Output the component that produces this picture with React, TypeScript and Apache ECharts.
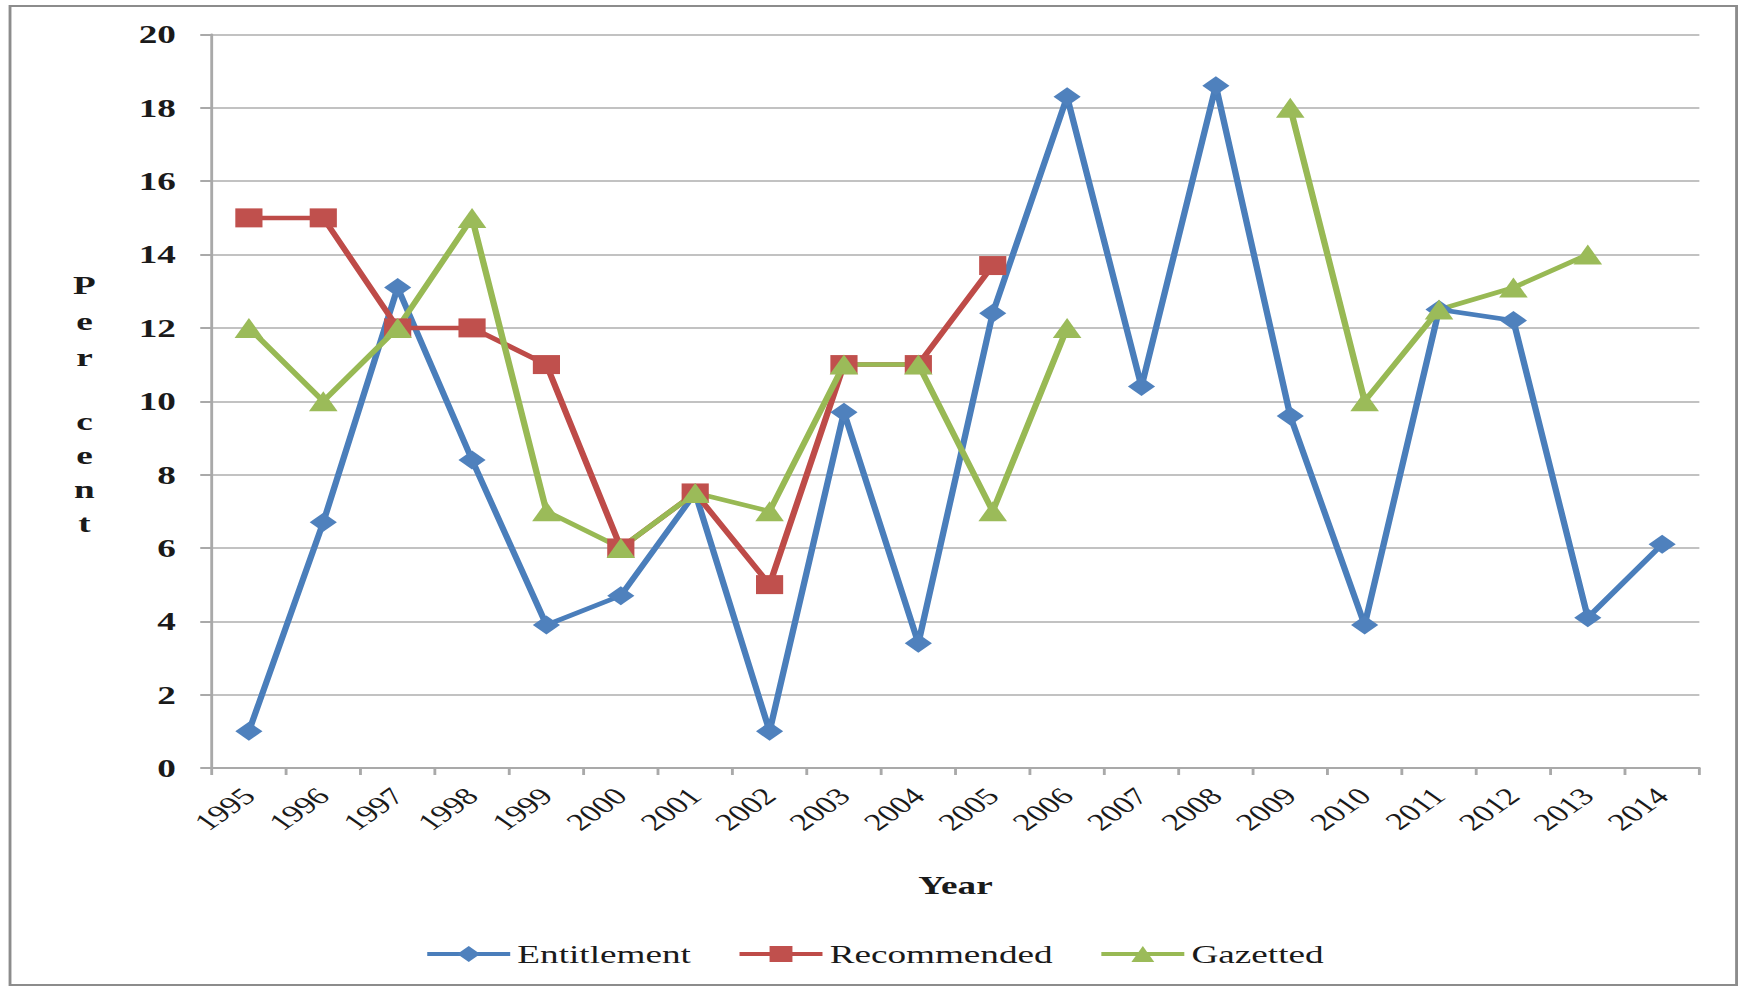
import React, { useEffect, useRef } from "react";
import * as echarts from "echarts";

// Categories and series values
const years = [
  "1995", "1996", "1997", "1998", "1999", "2000", "2001", "2002", "2003", "2004",
  "2005", "2006", "2007", "2008", "2009", "2010", "2011", "2012", "2013", "2014",
];
const entitlement = [1, 6.7, 13.1, 8.4, 3.9, 4.7, 7.5, 1, 9.7, 3.4, 12.4, 18.3, 10.4, 18.6, 9.6, 3.9, 12.5, 12.2, 4.1, 6.1];
const recommended = [15, 15, 12, 12, 11, 6, 7.5, 5, 11, 11, 13.7, null, null, null, null, null, null, null, null, null];
const gazetted = [12, 10, 12, 15, 7, 6, 7.5, 7, 11, 11, 7, 12, null, null, 18, 10, 12.5, 13.1, 14, null];
const seriesNames = ["Entitlement", "Recommended", "Gazetted"];

const PAGE_W = 1748;
const PAGE_H = 990;
// The chart is laid out on a narrower canvas and widened horizontally.
const STRETCH = 1.43;
const CHART_W = Math.round(PAGE_W / STRETCH);

const FONT = "'Liberation Serif', 'Times New Roman', serif";
const AXIS_GRAY = "#a9a9a9";

export default function App() {
  const ref = useRef<HTMLDivElement>(null);

  useEffect(() => {
    if (!ref.current) return;
    const chart = echarts.init(ref.current, null, { renderer: "svg" });

    const lineSeries = (
      name: string,
      data: (number | null)[],
      color: string,
      markerColor: string,
      symbol: string,
      symbolSize: number
    ) => ({
      name,
      type: "line",
      data,
      connectNulls: false,
      symbol,
      symbolSize,
      showAllSymbol: true,
      lineStyle: { color, width: 4.5 },
      itemStyle: { color: markerColor, borderWidth: 0 },
      emphasis: { disabled: true },
    });

    chart.setOption({
      animation: false,
      backgroundColor: "#ffffff",
      textStyle: { fontFamily: FONT },
      graphic: [
        {
          type: "rect",
          shape: { x: 7, y: 6, width: CHART_W - 15, height: 979 },
          style: { fill: "none", stroke: "#8c8c8c", lineWidth: 2 },
          silent: true,
        },
        {
          type: "text",
          x: 59,
          y: 267,
          style: {
            text: "P\ne\nr",
            font: `bold 26px ${FONT}`,
            fill: "#1a1a1a",
            align: "center",
            verticalAlign: "top",
            lineHeight: 36,
          },
        },
        {
          type: "text",
          x: 59,
          y: 404,
          style: {
            text: "c\ne\nn\nt",
            font: `bold 26px ${FONT}`,
            fill: "#1a1a1a",
            align: "center",
            verticalAlign: "top",
            lineHeight: 34,
          },
        },
      ],
      legend: {
        data: seriesNames,
        left: "center",
        top: 936,
        itemWidth: 58,
        itemHeight: 20,
        itemGap: 32,
        lineStyle: { width: 4 },
        textStyle: { fontFamily: FONT, fontSize: 26, color: "#1a1a1a" },
      },
      grid: { left: 148, right: 34, top: 34.5, bottom: 222, containLabel: false },
      xAxis: {
        type: "category",
        data: years,
        boundaryGap: true,
        name: "Year",
        nameLocation: "middle",
        nameGap: 104,
        nameTextStyle: { fontFamily: FONT, fontSize: 26, fontWeight: "bold", color: "#1a1a1a" },
        axisLine: { lineStyle: { color: AXIS_GRAY, width: 2 } },
        axisTick: { show: true, length: 7, lineStyle: { color: AXIS_GRAY, width: 2 } },
        axisLabel: {
          rotate: 45,
          margin: 24,
          fontFamily: FONT,
          fontSize: 24,
          color: "#1a1a1a",
          interval: 0,
        },
        splitLine: { show: false },
      },
      yAxis: {
        type: "value",
        min: 0,
        max: 20,
        interval: 2,
        axisLine: { show: true, lineStyle: { color: AXIS_GRAY, width: 2 } },
        axisTick: { show: true, length: 8, lineStyle: { color: AXIS_GRAY, width: 2 } },
        axisLabel: {
          margin: 25,
          fontFamily: FONT,
          fontSize: 26,
          fontWeight: "bold",
          color: "#1a1a1a",
        },
        splitLine: { show: true, lineStyle: { color: "#c2c2c2", width: 2 } },
      },
      series: [
        lineSeries(seriesNames[0], entitlement, "#4A7EBB", "#4F81BD", "diamond", 19),
        lineSeries(seriesNames[1], recommended, "#BE4B48", "#C0504D", "rect", 19),
        lineSeries(seriesNames[2], gazetted, "#98B954", "#9BBB59", "triangle", 20),
      ],
    });

    return () => chart.dispose();
  }, []);

  return (
    <div
      style={{
        position: "absolute",
        left: 0,
        top: 0,
        width: PAGE_W,
        height: PAGE_H,
        overflow: "hidden",
        background: "#ffffff",
      }}
    >
      <div
        ref={ref}
        style={{
          width: CHART_W,
          height: PAGE_H,
          transform: `scaleX(${PAGE_W / CHART_W})`,
          transformOrigin: "0 0",
        }}
      />
    </div>
  );
}
